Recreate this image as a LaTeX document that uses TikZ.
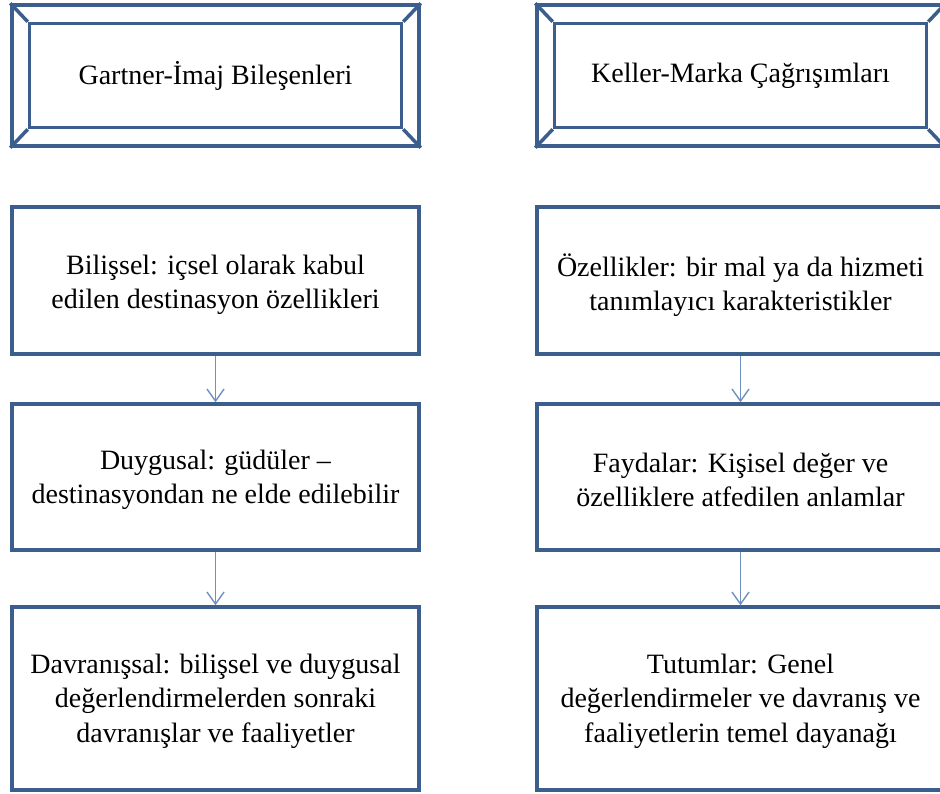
\documentclass[tikz,border=0pt]{standalone}
\usepackage{fontspec}
\IfFontExistsTF{LiberationSerif-Regular.ttf}
  {\setmainfont{LiberationSerif-Regular.ttf}[BoldFont=LiberationSerif-Bold.ttf]}
  {\setmainfont{Liberation Serif}}
\usetikzlibrary{arrows.meta}
\definecolor{boxblue}{HTML}{3B5E8C}
\definecolor{arrblue}{HTML}{7090BF}
\tikzset{
  txt/.style={font=\fontsize{28}{34.5}\selectfont, align=center, text=black},
  plainbox/.style={draw=boxblue, line width=3.5pt, fill=white, minimum width=407pt, txt},
  outerbev/.style={draw=boxblue, line width=3.5pt, fill=white, minimum width=407pt, minimum height=141pt},
  innerbev/.style={draw=boxblue, line width=3.5pt, minimum width=372pt, minimum height=104pt, txt},
  bevline/.style={draw=boxblue, line width=3.5pt},
  arr/.style={draw=arrblue, line width=1.4pt, -{Straight Barb[length=12pt,width=17pt]}}
}
\begin{document}
\begin{tikzpicture}[x=1pt,y=-1pt]
\useasboundingbox (0,0) rectangle (940,793);
\clip (0,0) rectangle (940,793);
\fill[white] (0,0) rectangle (940,793);

% bevel title boxes
\node[outerbev] (lt) at (215.5,75.5) {};
\node[innerbev] (lti) at (215.5,75.5) {Gartner-İmaj Bileşenleri};
\draw[bevline] (lt.north west) -- (lti.north west);
\draw[bevline] (lt.north east) -- (lti.north east);
\draw[bevline] (lt.south west) -- (lti.south west);
\draw[bevline] (lt.south east) -- (lti.south east);

\node[outerbev] (rt) at (740.5,75.5) {};
\node[innerbev] (rti) at (740.5,75.5) {Keller-Marka Çağrışımları};
\draw[bevline] (rt.north west) -- (rti.north west);
\draw[bevline] (rt.north east) -- (rti.north east);
\draw[bevline] (rt.south west) -- (rti.south west);
\draw[bevline] (rt.south east) -- (rti.south east);

% left column
\node[plainbox, minimum height=147pt] (l1) at (215.5,280.5) {};
\node[txt] (l1t) at (215.5,285) {Bilişsel: içsel olarak kabul\\edilen destinasyon özellikleri};
\node[plainbox, minimum height=146pt] (l2) at (215.5,477) {};
\node[txt] (l2t) at (215.5,480) {Duygusal: güdüler –\\destinasyondan ne elde edilebilir};
\node[plainbox, minimum height=183pt] (l3) at (215.5,698.5) {};
\node[txt] (l3t) at (215.5,701) {Davranışsal: bilişsel ve duygusal\\değerlendirmelerden sonraki\\davranışlar ve faaliyetler};

% right column
\node[plainbox, minimum height=147pt] (r1) at (740.5,280.5) {};
\node[txt] (r1t) at (740.5,285) {Özellikler: bir mal ya da hizmeti\\tanımlayıcı karakteristikler};
\node[plainbox, minimum height=146pt] (r2) at (740.5,477) {};
\node[txt] (r2t) at (740.5,480) {Faydalar: Kişisel değer ve\\özelliklere atfedilen anlamlar};
\node[plainbox, minimum height=183pt] (r3) at (740.5,698.5) {};
\node[txt] (r3t) at (740.5,701) {Tutumlar: Genel\\değerlendirmeler ve davranış ve\\faaliyetlerin temel dayanağı};

% arrows
\draw[arr] (l1.south) -- (l2.north);
\draw[arr] (l2.south) -- (l3.north);
\draw[arr] (r1.south) -- (r2.north);
\draw[arr] (r2.south) -- (r3.north);
\end{tikzpicture}
\end{document}
